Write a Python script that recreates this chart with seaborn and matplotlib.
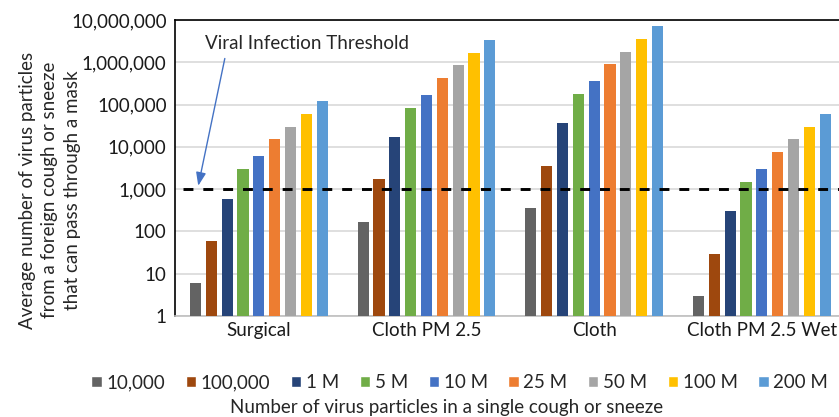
import pandas as pd
import matplotlib.pyplot as plt
import seaborn as sns
from matplotlib.ticker import FixedLocator, FuncFormatter, NullLocator
from matplotlib.patches import Patch

masks = ["Surgical", "Cloth PM 2.5", "Cloth", "Cloth PM 2.5 Wet"]
sizes = ["10,000", "100,000", "1 M", "5 M", "10 M", "25 M", "50 M", "100 M", "200 M"]
surgical = [6, 60, 600, 3000, 6000, 15000, 30000, 60000, 120000]
cloth_pm25 = [170, 1700, 17000, 85000, 170000, 425000, 850000, 1700000, 3400000]
cloth = [360, 3600, 36000, 180000, 360000, 900000, 1800000, 3600000, 7200000]
cloth_pm25_wet = [3, 30, 300, 1500, 3000, 7500, 15000, 30000, 60000]
threshold = 1000
colors = ["#636363", "#9E480E", "#264478", "#70AD47", "#4472C4",
          "#ED7D31", "#A5A5A5", "#FFC000", "#5B9BD5"]

rows = []
for mask, vals in zip(masks, [surgical, cloth_pm25, cloth, cloth_pm25_wet]):
    for size, v in zip(sizes, vals):
        rows.append({"mask": mask, "size": size, "value": v})
df = pd.DataFrame(rows)

sns.set_style("white")
plt.rcParams["font.family"] = ["Lato", "DejaVu Sans"]
fs = 13.5

fig = plt.figure(figsize=(8.39, 4.17), dpi=100)
ax = fig.add_axes([0.2086, 0.2422, 0.7914, 0.7098])

sns.barplot(data=df, x="mask", y="value", hue="size", order=masks,
            hue_order=sizes, palette=colors, saturation=1, width=0.85, gap=0.3,
            legend=False, ax=ax, edgecolor="none", linewidth=0, zorder=3)
ax.set_yscale("log")

ax.set_ylim(1, 1e7)
ax.set_xlim(-0.5, 3.46)
ax.yaxis.set_major_locator(FixedLocator([10 ** i for i in range(8)]))
ax.yaxis.set_minor_locator(NullLocator())
ax.yaxis.set_major_formatter(FuncFormatter(lambda v, p: f"{int(round(v)):,}"))
ax.grid(axis="y", color="#D9D9D9", lw=1.2, zorder=0)
ax.set_axisbelow(True)
ax.tick_params(axis="both", length=0, labelsize=fs, colors="#1a1a1a", pad=6)
ax.tick_params(axis="x", pad=4)

for s in ["top", "left"]:
    ax.spines[s].set_color("black")
    ax.spines[s].set_linewidth(1.2)
ax.spines["bottom"].set_color("#BFBFBF")
ax.spines["bottom"].set_linewidth(1.2)
ax.spines["right"].set_visible(False)

ax.axhline(threshold, xmin=0.012, xmax=1, color="black", lw=2.1,
           dashes=(3.4, 3.4), zorder=4)

ax.text(0.045, 0.919, "Viral Infection Threshold", transform=ax.transAxes,
        fontsize=fs, ha="left", va="center")
ax.annotate("", xy=(0.035, 0.44), xytext=(0.075, 0.87),
            xycoords="axes fraction", textcoords="axes fraction",
            arrowprops=dict(arrowstyle="-|>,head_length=0.8,head_width=0.3",
                            color="#4472C4", lw=1, shrinkA=0, shrinkB=0))

ax.set_xlabel("")
ax.set_ylabel("")
fig.text(50 / 839, 1 - 190 / 417,
         "Average number of virus particles\nfrom a foreign cough or sneeze\nthat can pass through a mask",
         rotation=90, ha="center", va="center", multialignment="center",
         fontsize=fs, linespacing=1.4)

handles = [Patch(facecolor=c, label=s) for c, s in zip(colors, sizes)]
fig.legend(handles=handles, loc="center", bbox_to_anchor=(0.548, 0.082),
           ncol=9, frameon=False, fontsize=fs, handlelength=0.55,
           handleheight=0.55, handletextpad=0.25, columnspacing=1.1,
           borderpad=0, borderaxespad=0)
fig.text(0.532, 0.022, "Number of virus particles in a single cough or sneeze",
         ha="center", va="center", fontsize=fs)

plt.savefig("out.png", dpi=100)
